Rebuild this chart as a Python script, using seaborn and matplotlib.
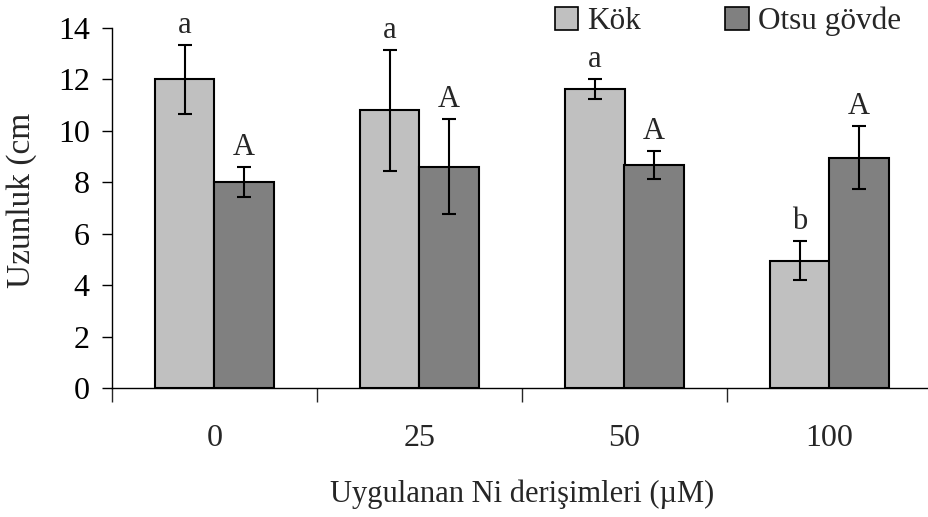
import matplotlib
matplotlib.use("Agg")
import matplotlib.pyplot as plt
import seaborn as sns
import pandas as pd
import numpy as np
from matplotlib.patches import Patch

categories = ["0", "25", "50", "100"]
series = ["Kök", "Otsu gövde"]
kok_values = [12.0, 10.8, 11.63, 4.95]
otsu_values = [8.0, 8.6, 8.68, 8.95]
kok_err = [1.35, 2.35, 0.4, 0.75]
otsu_err = [0.58, 1.85, 0.55, 1.22]
kok_letters = ["a", "a", "a", "b"]
otsu_letters = ["A", "A", "A", "A"]
colors = ["#C0C0C0", "#808080"]

df = pd.DataFrame({
    "cat": categories * 2,
    "series": [series[0]] * 4 + [series[1]] * 4,
    "value": kok_values + otsu_values,
})

sns.set_style("white")
plt.rcParams["font.family"] = ["Liberation Serif", "DejaVu Serif"]
plt.rcParams["mathtext.fontset"] = "stix"

fig = plt.figure(figsize=(9.29, 5.17), dpi=100)
ax = fig.add_axes([112 / 929, 129 / 517, 820 / 929, 360 / 517])

sns.barplot(data=df, x="cat", y="value", hue="series", order=categories,
            hue_order=series, palette=colors, width=0.58, ax=ax,
            edgecolor="black", linewidth=1.5, errorbar=None, legend=False,
            saturation=1)

errs = [kok_err, otsu_err]
vals = [kok_values, otsu_values]
letters = [kok_letters, otsu_letters]
bar_containers = list(ax.containers)
for si, cont in enumerate(bar_containers):
    for i, bar in enumerate(cont.patches):
        xc = bar.get_x() + bar.get_width() / 2
        ax.errorbar(xc, vals[si][i], yerr=errs[si][i], color="black",
                    capsize=5, elinewidth=1.5, capthick=1.5, fmt="none")
        ax.text(xc, vals[si][i] + errs[si][i] + 0.2, letters[si][i],
                ha="center", va="bottom", fontsize=22)

ax.set_ylim(0, 14)
ax.set_xlim(-0.5, 3.5)
ax.set_yticks(range(0, 15, 2))
ax.tick_params(axis="y", labelsize=23, length=7, width=1, direction="out",
               left=True, pad=9, colors="black")
ax.set_xticks([-0.5, 0.5, 1.5, 2.5], minor=True)
ax.tick_params(axis="x", which="major", length=0, labelsize=23, pad=26)
ax.tick_params(axis="x", which="minor", length=10, width=1, direction="out",
               bottom=True)
for s in ["top", "right"]:
    ax.spines[s].set_visible(False)
for s in ["left", "bottom"]:
    ax.spines[s].set_color("black")
    ax.spines[s].set_linewidth(1)

ax.set_xlabel("Uygulanan Ni derişimleri (µM)", fontsize=22, labelpad=19)
ax.set_ylabel("Uzunluk (cm", fontsize=24)
ax.yaxis.set_label_coords(-0.092, 0.522)

handles = [Patch(facecolor=c, edgecolor="black", linewidth=1.2) for c in colors]
fig.legend(handles, series, loc="upper left", bbox_to_anchor=(553 / 929, 0.99),
           ncol=2, frameon=False, fontsize=22.5, handlelength=0.75,
           handleheight=0.75, handletextpad=0.3, columnspacing=2.7,
           borderaxespad=0.0, borderpad=0.05)

fig.savefig("out.png", dpi=100)
